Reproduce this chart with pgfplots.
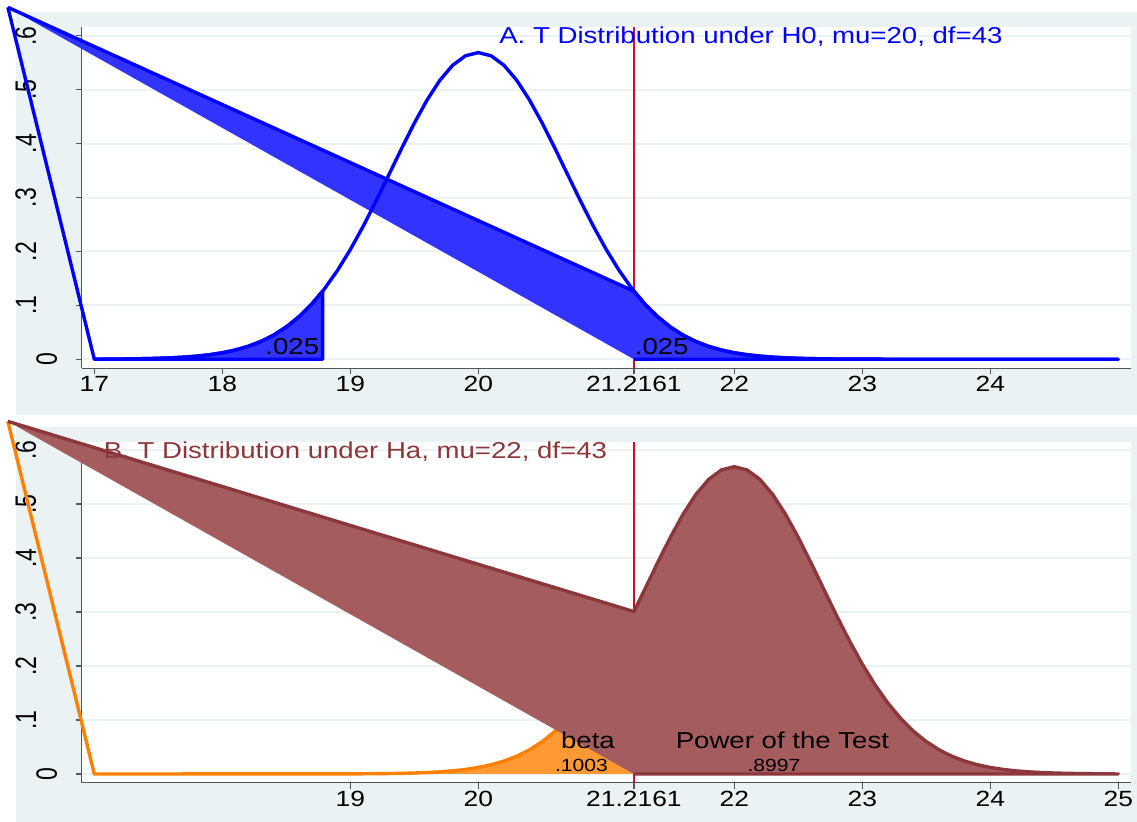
\documentclass[border=0pt]{standalone}
\usepackage{pgfplots}
\pgfplotsset{compat=1.18}
\usepackage{fontspec}
\setmainfont{Liberation Sans}[FakeStretch=1.2]
\newfontfamily\uprightlabels{Liberation Sans}

\definecolor{bgcol}{RGB}{234,242,243}
\definecolor{gridcol}{RGB}{234,242,243}
\definecolor{hzero}{RGB}{0,0,255}
\definecolor{hzerofill}{RGB}{51,51,255}
\definecolor{critline}{RGB}{200,16,46}
\definecolor{maroonline}{RGB}{140,55,60}
\definecolor{maroonfill}{RGB}{165,92,94}
\definecolor{orangeline}{RGB}{255,128,0}
\definecolor{orangefill}{RGB}{255,153,51}
\definecolor{axiscol}{RGB}{85,85,85}

\tikzset{
  lbl/.style={font=\fontsize{11.5}{13}\selectfont, inner sep=0pt},
  smalllbl/.style={font=\fontsize{8.8}{10}\selectfont, inner sep=0pt},
}

% the zero label sits closer to the axis than the others
\newcommand{\zerolabel}{\raisebox{-8.6pt}[0pt][0pt]{0}}

\pgfplotsset{
  panel/.style={
    scale only axis, width=524.65pt, height=170.5pt,
    xmin=16.9016, xmax=25.0992,
    axis x line*=bottom, axis y line*=left,
    axis line style={axiscol, line width=0.6pt},
    axis background/.style={fill=white},
    clip=false,
    ytick={0,0.1,0.2,0.3,0.4,0.5,0.6},
    yticklabels={\zerolabel,.1,.2,.3,.4,.5,.6},
    ymajorgrids, grid style={gridcol, line width=1pt},
    tick align=outside,
    major tick length=3pt,
    tick style={axiscol, line width=0.6pt},
    xticklabel style={font=\fontsize{11}{13}\selectfont, anchor=north, inner sep=0pt},
    yticklabel style={font=\fontsize{11.5}{13}\uprightlabels, rotate=90, anchor=south, inner sep=0pt, yscale=1.28},
    xticklabel shift=0.8pt, yticklabel shift=19.5pt,
    /pgf/number format/assume math mode=true,
    every axis plot/.append style={line join=round},
  },
}

\begin{document}
\begin{tikzpicture}
\useasboundingbox (0pt,0pt) rectangle (568.5pt,411pt);
\fill[white] (0pt,0pt) rectangle (568.5pt,411pt);
\fill[bgcol] (8pt,203.5pt) rectangle (568.5pt,404.85pt);
\fill[bgcol] (8pt,0pt) rectangle (568.5pt,197.5pt);

% Panel A: sampling distribution under H0
\begin{axis}[panel, at={(40.85pt,226.85pt)}, anchor=south west,
  ymin=-0.0167, ymax=0.616,
  xtick={17,18,19,20,21.2161,22,23,24},
  xticklabels={17,18,19,20,21.2161,22,23,24}]
\addplot[critline, line width=0.8pt] coordinates {(21.2161,-0.0167) (21.2161,0.616)};
% lower rejection region
\addplot[draw=hzero, fill=hzerofill, line width=1.7pt] coordinates {
 (17.0,0) (17.2,0.00051) (17.4,0.00119) (17.5,0.00180) (17.6,0.00268) (17.7,0.00397)
 (17.8,0.00581) (17.9,0.00842) (18.0,0.01206) (18.1,0.01707) (18.2,0.02386) (18.3,0.03290)
 (18.4,0.04473) (18.5,0.05996) (18.6,0.07914) (18.7,0.10277) (18.7839,0.12634) (18.7839,0)} -- cycle;
% upper rejection region
\addplot[draw=none, fill=hzerofill] coordinates {
 (16.325,0.653) (21.2161,0.12634) (21.3,0.10277) (21.4,0.07914) (21.5,0.05996) (21.6,0.04473)
 (21.7,0.03290) (21.8,0.02386) (21.9,0.01707) (22.0,0.01206) (22.1,0.00842) (22.2,0.00581)
 (22.3,0.00397) (22.4,0.00268) (22.5,0.00180) (22.6,0.00119) (22.8,0.00051) (23.0,0.00021)
 (23.5,0.00002) (24.0,0) (25.0,0) (21.2161,0)} -- cycle;
\addplot[hzero, line width=1.7pt] coordinates {
 (16.325,0.653) (21.2161,0.12634) (21.3,0.10277) (21.4,0.07914) (21.5,0.05996) (21.6,0.04473)
 (21.7,0.03290) (21.8,0.02386) (21.9,0.01707) (22.0,0.01206) (22.1,0.00842) (22.2,0.00581)
 (22.3,0.00397) (22.4,0.00268) (22.5,0.00180) (22.6,0.00119) (22.8,0.00051) (23.0,0.00021)
 (23.5,0.00002) (24.0,0) (25.0,0) (21.2161,0)};
% density under H0
\addplot[hzero, line width=1.7pt] coordinates {
 (16.325,0.653) (17.0,0.00021) (17.2,0.00051) (17.4,0.00119) (17.5,0.00180) (17.6,0.00268)
 (17.7,0.00397) (17.8,0.00581) (17.9,0.00842) (18.0,0.01206) (18.1,0.01707) (18.2,0.02386)
 (18.3,0.03290) (18.4,0.04473) (18.5,0.05996) (18.6,0.07914) (18.7,0.10277) (18.7839,0.12634)
 (18.8,0.13127) (18.9,0.16489) (19.0,0.20341) (19.1,0.24642) (19.2,0.29297) (19.3,0.34169)
 (19.4,0.39074) (19.5,0.43800) (19.6,0.48111) (19.7,0.51769) (19.8,0.54559) (19.9,0.56308)
 (20.0,0.56904) (20.1,0.56308) (20.2,0.54559) (20.3,0.51769) (20.4,0.48111) (20.5,0.43800)
 (20.6,0.39074) (20.7,0.34169) (20.8,0.29297) (20.9,0.24642) (21.0,0.20341) (21.1,0.16489)
 (21.2,0.13127) (21.2161,0.12634) (21.3,0.10277) (21.4,0.07914) (21.5,0.05996) (21.6,0.04473)
 (21.7,0.03290) (21.8,0.02386) (21.9,0.01707) (22.0,0.01206) (22.1,0.00842) (22.2,0.00581)
 (22.3,0.00397) (22.4,0.00268) (22.5,0.00180) (22.6,0.00119) (22.8,0.00051) (23.0,0.00021)
 (23.5,0.00002) (24.0,0) (25.0,0)};
\node[lbl, text=hzero, anchor=base] at (22.13,0.585) {A. T Distribution under H0, mu=20, df=43};
\node[lbl, anchor=base east] at (18.76,0.009) {.025};
\node[lbl, anchor=base west] at (21.22,0.009) {.025};
\end{axis}

% Panel B: sampling distribution under Ha
\begin{axis}[panel, at={(40.85pt,19.65pt)}, anchor=south west,
  ymin=-0.0161, ymax=0.6154,
  xtick={19,20,21.2161,22,23,24,25},
  xticklabels={19,20,21.2161,22,23,24,25}]
\addplot[critline, line width=0.8pt] coordinates {(21.2161,-0.0161) (21.2161,0.6154)};
% beta region
\addplot[draw=none, fill=orangefill] coordinates {
 (17.0,0) (19.0,0.00021) (19.2,0.00051) (19.4,0.00119) (19.5,0.00180) (19.6,0.00268)
 (19.7,0.00397) (19.8,0.00581) (19.9,0.00842) (20.0,0.01206) (20.1,0.01707) (20.2,0.02386)
 (20.3,0.03290) (20.4,0.04473) (20.5,0.05996) (20.6,0.07914) (20.7,0.10277) (20.8,0.13127)
 (20.9,0.16489) (21.0,0.20341) (21.1,0.24642) (21.2,0.29297) (21.2161,0.30070) (21.2161,0)} -- cycle;
\addplot[orangeline, line width=1.7pt] coordinates {
 (16.325,0.653) (17.0,0) (19.0,0.00021) (19.2,0.00051) (19.4,0.00119) (19.5,0.00180) (19.6,0.00268)
 (19.7,0.00397) (19.8,0.00581) (19.9,0.00842) (20.0,0.01206) (20.1,0.01707) (20.2,0.02386)
 (20.3,0.03290) (20.4,0.04473) (20.5,0.05996) (20.6,0.07914) (20.7,0.10277) (20.8,0.13127)
 (20.9,0.16489) (21.0,0.20341) (21.1,0.24642) (21.2,0.29297) (21.2161,0.30070)};
% power region
\addplot[draw=none, fill=maroonfill] coordinates {
 (16.325,0.653) (21.2161,0.30070) (21.3,0.34169) (21.4,0.39074) (21.5,0.43800) (21.6,0.48111)
 (21.7,0.51769) (21.8,0.54559) (21.9,0.56308) (22.0,0.56904) (22.1,0.56308) (22.2,0.54559)
 (22.3,0.51769) (22.4,0.48111) (22.5,0.43800) (22.6,0.39074) (22.7,0.34169) (22.8,0.29297)
 (22.9,0.24642) (23.0,0.20341) (23.1,0.16489) (23.2,0.13127) (23.3,0.10277) (23.4,0.07914)
 (23.5,0.05996) (23.6,0.04473) (23.7,0.03290) (23.8,0.02386) (23.9,0.01707) (24.0,0.01206)
 (24.1,0.00842) (24.2,0.00581) (24.3,0.00397) (24.4,0.00268) (24.5,0.00180) (24.6,0.00119)
 (24.8,0.00051) (25.0,0) (21.2161,0)} -- cycle;
\addplot[maroonline, line width=1.7pt] coordinates {
 (16.325,0.653) (21.2161,0.30070) (21.3,0.34169) (21.4,0.39074) (21.5,0.43800) (21.6,0.48111)
 (21.7,0.51769) (21.8,0.54559) (21.9,0.56308) (22.0,0.56904) (22.1,0.56308) (22.2,0.54559)
 (22.3,0.51769) (22.4,0.48111) (22.5,0.43800) (22.6,0.39074) (22.7,0.34169) (22.8,0.29297)
 (22.9,0.24642) (23.0,0.20341) (23.1,0.16489) (23.2,0.13127) (23.3,0.10277) (23.4,0.07914)
 (23.5,0.05996) (23.6,0.04473) (23.7,0.03290) (23.8,0.02386) (23.9,0.01707) (24.0,0.01206)
 (24.1,0.00842) (24.2,0.00581) (24.3,0.00397) (24.4,0.00268) (24.5,0.00180) (24.6,0.00119)
 (24.8,0.00051) (25.0,0) (21.2161,0)};
\node[lbl, text=maroonline, anchor=base] at (19.04,0.585) {B. T Distribution under Ha, mu=22, df=43};
\node[lbl, anchor=base] at (20.857,0.047) {beta};
\node[smalllbl, anchor=base] at (20.806,0.0043) {.1003};
\node[lbl, anchor=base] at (22.376,0.047) {Power of the Test};
\node[smalllbl, anchor=base] at (22.31,0.0043) {.8997};
\end{axis}
\end{tikzpicture}
\end{document}
